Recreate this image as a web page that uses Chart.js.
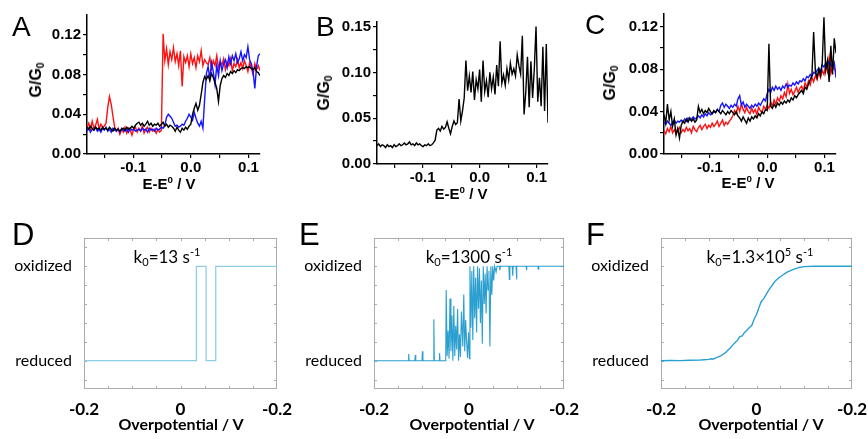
<!DOCTYPE html>
<html lang="en">
<head>
<meta charset="UTF-8">
<title>Conductance switching vs. simulated redox traces</title>
<style>
  body { margin: 0; background: #fff; }
  #fig { position: relative; width: 868px; height: 439px; overflow: hidden; }
  #fig canvas { position: absolute; }
  .txt { position: absolute; white-space: nowrap; line-height: 1; color: #000; }
  .letter { font-family: 'Liberation Sans', Arial, sans-serif; font-size: 28px; }
  .letter.low { font-size: 31px; }
  .ttl { font-family: 'Liberation Sans', Arial, sans-serif; font-weight: bold; font-size: 15px; transform: translate(-50%, -50%); }
  .ttl.rot { font-size: 16px; transform: translate(-50%, -50%) rotate(-90deg); }
  .sim { font-family: Lato, 'Open Sans', sans-serif; font-size: 17px; transform: translate(-50%, -50%); }
  .sim.bold { font-weight: bold; font-size: 16px; }
  sub, sup { font-size: 0.65em; line-height: 0; }
  sub { vertical-align: -0.3em; }
  sup { vertical-align: 0.55em; }
</style>
<script src="https://cdn.jsdelivr.net/npm/chart.js"></script>
</head>
<body>
<div id="fig">
  <canvas id="cA" width="290" height="200" style="left:0;top:0"></canvas>
  <canvas id="cB" width="290" height="210" style="left:288px;top:0"></canvas>
  <canvas id="cC" width="290" height="200" style="left:578px;top:0"></canvas>
  <canvas id="cD" width="300" height="222" style="left:0;top:212px"></canvas>
  <canvas id="cE" width="300" height="222" style="left:284px;top:212px"></canvas>
  <canvas id="cF" width="298" height="222" style="left:570px;top:212px"></canvas>

  <div class="txt letter" style="left:12px;top:13px">A</div>
  <div class="txt letter" style="left:316px;top:13px">B</div>
  <div class="txt letter" style="left:585px;top:11px">C</div>
  <div class="txt letter low" style="left:12px;top:219px">D</div>
  <div class="txt letter low" style="left:299px;top:219px">E</div>
  <div class="txt letter low" style="left:586px;top:219px">F</div>

  <div class="txt ttl" style="left:169px;top:183px">E-E<sup>0</sup> / V</div>
  <div class="txt ttl" style="left:461px;top:193px">E-E<sup>0</sup> / V</div>
  <div class="txt ttl" style="left:748px;top:182px">E-E<sup>0</sup> / V</div>
  <div class="txt ttl rot" style="left:36px;top:80px">G/G<sub>0</sub></div>
  <div class="txt ttl rot" style="left:324px;top:93px">G/G<sub>0</sub></div>
  <div class="txt ttl rot" style="left:610px;top:83px">G/G<sub>0</sub></div>

  <div class="txt sim" style="left:167px;top:256px">k<sub>0</sub>=13 s<sup>-1</sup></div>
  <div class="txt sim" style="left:469px;top:256px">k<sub>0</sub>=1300 s<sup>-1</sup></div>
  <div class="txt sim" style="left:760px;top:256px">k<sub>0</sub>=1.3×10<sup>5</sup> s<sup>-1</sup></div>
  <div class="txt sim bold" style="left:181px;top:424px">Overpotential / V</div>
  <div class="txt sim bold" style="left:472px;top:424px">Overpotential / V</div>
  <div class="txt sim bold" style="left:761px;top:424px">Overpotential / V</div>
</div>

<script>
// ---- measured data (E - E0 in V, G/G0) ----
const potential = [
  -0.180,-0.177,-0.174,-0.171,-0.168,-0.165,-0.162,-0.159,-0.156,-0.153,
  -0.150,-0.147,-0.144,-0.141,-0.138,-0.135,-0.132,-0.129,-0.126,-0.123,
  -0.120,-0.117,-0.114,-0.111,-0.108,-0.105,-0.102,-0.099,-0.096,-0.093,
  -0.090,-0.087,-0.084,-0.081,-0.078,-0.075,-0.072,-0.069,-0.066,-0.063,
  -0.060,-0.057,-0.054,-0.051,-0.048,-0.045,-0.042,-0.039,-0.036,-0.033,
  -0.030,-0.027,-0.024,-0.021,-0.018,-0.015,-0.012,-0.009,-0.006,-0.003,
  0.000,0.003,0.006,0.009,0.012,0.015,0.018,0.021,0.024,0.027,
  0.030,0.033,0.036,0.039,0.042,0.045,0.048,0.051,0.054,0.057,
  0.060,0.063,0.066,0.069,0.072,0.075,0.078,0.081,0.084,0.087,
  0.090,0.093,0.096,0.099,0.102,0.105,0.108,0.111,0.114,0.117,
  0.120];

const redA = [
  0.027,0.031,0.024,0.033,0.026,0.029,0.035,0.025,0.030,0.027,
  0.028,0.031,0.047,0.058,0.050,0.038,0.027,0.023,0.026,0.020,
  0.025,0.022,0.027,0.021,0.026,0.024,0.019,0.025,0.027,0.022,
  0.026,0.023,0.028,0.021,0.025,0.027,0.022,0.026,0.023,0.025,
  0.021,0.025,0.022,0.024,0.121,0.094,0.106,0.090,0.103,0.095,
  0.107,0.093,0.101,0.089,0.104,0.068,0.098,0.092,0.099,0.088,
  0.101,0.091,0.097,0.087,0.099,0.093,0.104,0.089,0.095,0.092,
  0.090,0.097,0.086,0.094,0.089,0.099,0.087,0.093,0.090,0.096,
  0.085,0.093,0.089,0.096,0.084,0.091,0.088,0.095,0.087,0.092,
  0.086,0.094,0.089,0.083,0.092,0.087,0.080,0.091,0.085,0.089,
  0.084];
const blueA = [
  0.023,0.026,0.022,0.025,0.024,0.027,0.023,0.025,0.022,0.026,
  0.024,0.027,0.023,0.025,0.022,0.026,0.024,0.023,0.025,0.022,
  0.026,0.024,0.023,0.025,0.022,0.026,0.024,0.025,0.023,0.024,
  0.025,0.023,0.026,0.024,0.025,0.022,0.026,0.024,0.025,0.023,
  0.026,0.024,0.025,0.027,0.026,0.029,0.037,0.040,0.038,0.036,
  0.032,0.028,0.029,0.027,0.028,0.030,0.029,0.033,0.036,0.040,
  0.037,0.034,0.042,0.036,0.031,0.028,0.033,0.026,0.055,0.081,
  0.088,0.076,0.092,0.083,0.070,0.089,0.079,0.094,0.084,0.091,
  0.095,0.087,0.098,0.091,0.099,0.094,0.101,0.092,0.096,0.103,
  0.094,0.100,0.097,0.108,0.095,0.091,0.083,0.066,0.088,0.099,
  0.101];
const blackA = [
  0.027,0.025,0.028,0.026,0.024,0.027,0.025,0.026,0.024,0.027,
  0.025,0.026,0.024,0.027,0.025,0.023,0.026,0.024,0.025,0.023,
  0.025,0.026,0.024,0.027,0.025,0.026,0.028,0.026,0.029,0.031,
  0.032,0.029,0.031,0.028,0.030,0.033,0.029,0.031,0.028,0.030,
  0.029,0.031,0.028,0.030,0.032,0.028,0.030,0.027,0.029,0.028,
  0.026,0.023,0.027,0.024,0.022,0.026,0.024,0.027,0.025,0.028,
  0.030,0.040,0.046,0.051,0.044,0.049,0.060,0.072,0.078,0.075,
  0.079,0.074,0.081,0.077,0.072,0.066,0.053,0.069,0.076,0.079,
  0.077,0.081,0.079,0.083,0.081,0.084,0.082,0.085,0.084,0.086,
  0.087,0.086,0.088,0.087,0.088,0.086,0.085,0.087,0.083,0.082,
  0.079];

const blackB = [
  0.020,0.022,0.019,0.021,0.020,0.018,0.021,0.019,0.020,0.018,
  0.021,0.019,0.020,0.022,0.020,0.021,0.023,0.021,0.022,0.024,
  0.021,0.022,0.020,0.023,0.021,0.022,0.020,0.019,0.021,0.020,
  0.022,0.020,0.021,0.023,0.026,0.037,0.039,0.036,0.041,0.038,
  0.040,0.046,0.039,0.033,0.041,0.047,0.043,0.045,0.071,0.047,
  0.058,0.072,0.113,0.080,0.096,0.078,0.101,0.070,0.092,0.082,
  0.103,0.068,0.113,0.079,0.091,0.073,0.100,0.082,0.095,0.076,
  0.108,0.085,0.134,0.088,0.097,0.086,0.104,0.092,0.110,0.098,
  0.104,0.096,0.119,0.107,0.098,0.140,0.054,0.078,0.117,0.062,
  0.112,0.072,0.104,0.150,0.068,0.094,0.063,0.128,0.058,0.131,
  0.045];

const redC = [
  0.022,0.019,0.024,0.021,0.026,0.020,0.023,0.019,0.022,0.025,
  0.020,0.023,0.021,0.025,0.022,0.024,0.020,0.026,0.023,0.021,
  0.025,0.027,0.023,0.026,0.028,0.024,0.027,0.025,0.029,0.026,
  0.028,0.031,0.026,0.029,0.032,0.027,0.030,0.028,0.031,0.033,
  0.036,0.041,0.038,0.045,0.040,0.047,0.042,0.039,0.044,0.040,
  0.038,0.043,0.039,0.042,0.037,0.044,0.041,0.039,0.045,0.042,
  0.046,0.043,0.049,0.045,0.051,0.047,0.053,0.050,0.055,0.052,
  0.058,0.054,0.066,0.057,0.061,0.056,0.059,0.063,0.058,0.062,
  0.064,0.060,0.067,0.063,0.069,0.065,0.072,0.068,0.074,0.070,
  0.077,0.072,0.079,0.075,0.084,0.078,0.091,0.076,0.083,0.080,
  0.079];
const blueC = [
  0.030,0.028,0.031,0.029,0.027,0.030,0.032,0.029,0.031,0.030,
  0.032,0.030,0.033,0.031,0.034,0.032,0.033,0.035,0.033,0.034,
  0.036,0.034,0.037,0.035,0.038,0.036,0.039,0.037,0.038,0.040,
  0.039,0.042,0.040,0.046,0.048,0.044,0.047,0.045,0.043,0.046,
  0.044,0.047,0.045,0.052,0.055,0.046,0.049,0.044,0.047,0.045,
  0.043,0.046,0.044,0.047,0.045,0.048,0.046,0.049,0.052,0.050,
  0.057,0.061,0.058,0.063,0.060,0.064,0.061,0.063,0.060,0.064,
  0.062,0.066,0.063,0.065,0.064,0.067,0.065,0.068,0.066,0.069,
  0.068,0.071,0.069,0.073,0.072,0.075,0.073,0.077,0.076,0.079,
  0.081,0.078,0.084,0.082,0.086,0.083,0.087,0.084,0.082,0.086,
  0.072];
const blackC = [
  0.037,0.029,0.047,0.032,0.040,0.026,0.033,0.018,0.024,0.015,
  0.027,0.031,0.029,0.033,0.030,0.034,0.031,0.033,0.030,0.032,
  0.045,0.039,0.042,0.038,0.041,0.039,0.043,0.040,0.038,0.041,
  0.039,0.042,0.040,0.038,0.041,0.039,0.037,0.040,0.038,0.041,
  0.039,0.037,0.040,0.036,0.034,0.031,0.035,0.032,0.029,0.034,
  0.031,0.035,0.033,0.036,0.034,0.038,0.036,0.040,0.038,0.042,
  0.041,0.104,0.045,0.043,0.047,0.044,0.048,0.046,0.049,0.047,
  0.050,0.048,0.051,0.049,0.053,0.051,0.055,0.053,0.056,0.058,
  0.060,0.057,0.063,0.061,0.066,0.070,0.074,0.115,0.078,0.072,
  0.080,0.074,0.086,0.129,0.079,0.088,0.068,0.102,0.075,0.109,
  0.095];

// ---- simulated traces (overpotential in V, state 0 = reduced, 1 = oxidized) ----
const stepX = [-0.2, 0.033, 0.033, 0.053, 0.053, 0.073, 0.073, 0.2];
const stepY = [0, 0, 1, 1, 0, 0, 1, 1];

const midX = [
  -0.200,-0.128,-0.127,-0.126,-0.114,-0.113,-0.112,-0.099,-0.098,-0.097,
  -0.075,-0.074,-0.073,-0.063,-0.062,-0.061,-0.049,-0.048,-0.046,-0.044,
  -0.042,-0.040,-0.038,-0.036,-0.034,-0.032,-0.030,-0.028,-0.026,-0.024,
  -0.022,-0.020,-0.018,-0.016,-0.013,-0.011,-0.009,-0.007,-0.005,-0.003,
  -0.001,0.001,0.002,0.004,0.006,0.008,0.010,0.012,0.014,0.016,
  0.018,0.020,0.022,0.024,0.026,0.028,0.030,0.032,0.034,0.036,
  0.038,0.040,0.042,0.044,0.046,0.048,0.050,0.052,0.054,0.057,
  0.059,0.064,0.065,0.066,0.084,0.085,0.086,0.091,0.092,0.093,
  0.099,0.100,0.101,0.120,0.121,0.122,0.145,0.146,0.147,0.200];
const midY = [
  0,0,0.07,0,0,0.06,0,0,0.10,0,
  0,0.44,0,0,0.08,0,0,0.75,0.05,0.32,
  0.02,0.66,0.10,0.48,0,0.58,0.05,0.37,0.12,0.55,
  0,0.28,0.04,0.52,0.15,0.70,0.10,0.43,0.20,0.03,
  0.30,0.02,1.0,0.35,0.95,0.22,1.0,0.45,0.88,0.30,
  1.0,0.55,0.98,0.40,0.85,0.18,1.0,0.60,0.92,0.50,
  1.0,0.75,0.95,0.15,1.0,0.70,1.0,0.85,1.0,0.94,
  1.0,1.0,0.96,1.0,1.0,0.86,1.0,1.0,0.90,1.0,
  1.0,0.86,1.0,1.0,0.96,1.0,1.0,0.97,1.0,1.0];

const fastX = [
  -0.20,-0.18,-0.16,-0.14,-0.12,-0.11,-0.10,-0.095,-0.09,-0.085,
  -0.08,-0.075,-0.07,-0.065,-0.06,-0.055,-0.05,-0.045,-0.04,-0.035,
  -0.03,-0.025,-0.02,-0.015,-0.01,-0.005,0,0.005,0.01,0.015,
  0.02,0.025,0.03,0.035,0.04,0.045,0.05,0.055,0.06,0.065,
  0.07,0.075,0.08,0.09,0.10,0.12,0.14,0.16,0.18,0.20];
const fastY = [
  0.000,0.002,0.001,0.004,0.006,0.010,0.014,0.020,0.018,0.030,
  0.040,0.052,0.068,0.085,0.110,0.135,0.165,0.190,0.215,0.255,
  0.262,0.300,0.322,0.352,0.372,0.440,0.490,0.560,0.628,0.655,
  0.700,0.742,0.780,0.815,0.848,0.870,0.890,0.908,0.925,0.940,
  0.952,0.963,0.972,0.988,0.997,1.0,1.0,1.0,1.0,1.0];

// ---- tick labels ----
const eTicks = [-0.1, 0, 0.1];
const eTickText = ['-0.1', '0.0', '0.1'];
const eMinor = [-0.15, -0.05, 0.05];
const gTicks4 = [0, 0.04, 0.08, 0.12];
const gTicks4Text = ['0.00', '0.04', '0.08', '0.12'];
const gMinor4 = [0.02, 0.06, 0.10];
const gTicks5 = [0, 0.05, 0.10, 0.15];
const gTicks5Text = ['0.00', '0.05', '0.10', '0.15'];
const gMinor5 = [0.025, 0.075, 0.125];
const etaTicks = [-0.2, 0, 0.2];
const etaTickText = ['-0.2', '0', '-0.2'];
const etaMinor = [-0.15, -0.1, -0.05, 0, 0.05, 0.1, 0.15];
const stateTicks = [0, 1];
const stateText = ['reduced', 'oxidized'];
const stateMinor = [-0.2, 0, 0.2, 0.4, 0.6, 0.8, 1.0, 1.2];

Chart.defaults.font.family = "'Liberation Sans', Arial, sans-serif";
Chart.defaults.color = '#000';

function labelFor(values, texts) {
  return v => {
    const i = values.findIndex(t => Math.abs(t - v) < 1e-9);
    return i < 0 ? '' : texts[i];
  };
}

function pts(xs, ys) {
  return xs.map((x, i) => ({ x: x, y: ys[i] }));
}

// frame + inward ticks for the simulation panels
const frameTicks = {
  id: 'frameTicks',
  beforeDatasetsDraw(chart, args, opts) {
    if (!opts.x) return;
    const { ctx, chartArea: a, scales: { x, y } } = chart;
    ctx.save();
    ctx.strokeStyle = opts.color;
    ctx.lineWidth = 1;
    ctx.strokeRect(a.left + 0.5, a.top + 0.5, a.width - 1, a.height - 1);
    ctx.beginPath();
    opts.x.forEach(v => {
      const px = Math.round(x.getPixelForValue(v)) + 0.5;
      ctx.moveTo(px, a.bottom); ctx.lineTo(px, a.bottom - 3);
      ctx.moveTo(px, a.top); ctx.lineTo(px, a.top + 3);
    });
    opts.y.forEach(v => {
      const py = Math.round(y.getPixelForValue(v)) + 0.5;
      ctx.moveTo(a.left, py); ctx.lineTo(a.left + 3, py);
      ctx.moveTo(a.right, py); ctx.lineTo(a.right - 3, py);
    });
    ctx.stroke();
    ctx.restore();
  }
};

// box = canvas rect on the page, plot = wanted plot area on the page
function layoutFor(box, plot) {
  return {
    padding: { left: 0, top: plot.t - box.y, right: box.x + box.w - plot.r, bottom: 0 },
    yWidth: plot.l - box.x,
    xHeight: box.y + box.h - plot.b
  };
}

function conductanceChart(id, box, plot, datasets, ymax, yMajor, yText, yMinor) {
  const L = layoutFor(box, plot);
  const tickFont = { size: 15, weight: 'bold' };
  new Chart(document.getElementById(id), {
    type: 'line',
    data: { datasets: datasets },
    options: {
      responsive: false,
      animation: false,
      devicePixelRatio: 1,
      layout: { padding: L.padding },
      plugins: { legend: { display: false }, tooltip: { enabled: false } },
      elements: { point: { radius: 0 }, line: { borderWidth: 1.4, tension: 0 } },
      scales: {
        x: {
          type: 'linear', min: -0.18, max: 0.12,
          afterBuildTicks: s => { s.ticks = eTicks.concat(eMinor).map(v => ({ value: v })); },
          afterFit: s => { s.height = L.xHeight; s.paddingLeft = 0; s.paddingRight = 0; },
          grid: { display: true, drawOnChartArea: false, drawTicks: true, tickLength: 4, color: '#000', lineWidth: 1.2 },
          border: { display: true, color: '#000', width: 1.5 },
          ticks: { autoSkip: false, maxRotation: 0, padding: 1, font: tickFont, callback: labelFor(eTicks, eTickText) }
        },
        y: {
          type: 'linear', min: 0, max: ymax,
          afterBuildTicks: s => { s.ticks = yMajor.concat(yMinor).map(v => ({ value: v })); },
          afterFit: s => { s.width = L.yWidth; s.paddingTop = 0; s.paddingBottom = 0; },
          grid: { display: true, drawOnChartArea: false, drawTicks: true, tickLength: 4, color: '#000', lineWidth: 1.2 },
          border: { display: true, color: '#000', width: 1.5 },
          ticks: { autoSkip: false, padding: 2, font: tickFont, callback: labelFor(yMajor, yText) }
        }
      }
    }
  });
}

function simulationChart(id, box, plot, xs, ys, color, width) {
  const L = layoutFor(box, plot);
  new Chart(document.getElementById(id), {
    type: 'line',
    data: { datasets: [{ data: pts(xs, ys), borderColor: color, borderWidth: width }] },
    options: {
      responsive: false,
      animation: false,
      devicePixelRatio: 1,
      layout: { padding: L.padding },
      plugins: {
        legend: { display: false },
        tooltip: { enabled: false },
        frameTicks: { color: '#ababab', x: etaMinor, y: stateMinor }
      },
      elements: { point: { radius: 0 }, line: { tension: 0 } },
      scales: {
        x: {
          type: 'linear', min: -0.2, max: 0.2,
          afterBuildTicks: s => { s.ticks = etaTicks.map(v => ({ value: v })); },
          afterFit: s => { s.height = L.xHeight; s.paddingLeft = 0; s.paddingRight = 0; },
          grid: { display: false, drawTicks: false },
          border: { display: false },
          ticks: { autoSkip: false, maxRotation: 0, padding: 10,
                   font: { family: "Lato, 'Open Sans', sans-serif", size: 17, weight: 'bold' },
                   callback: labelFor(etaTicks, etaTickText) }
        },
        y: {
          type: 'linear', min: -0.3, max: 1.3,
          afterBuildTicks: s => { s.ticks = stateTicks.map(v => ({ value: v })); },
          afterFit: s => { s.width = L.yWidth; s.paddingTop = 0; s.paddingBottom = 0; },
          grid: { display: false, drawTicks: false },
          border: { display: false },
          ticks: { autoSkip: false, padding: 12,
                   font: { family: "Lato, 'Open Sans', sans-serif", size: 16 },
                   callback: labelFor(stateTicks, stateText) }
        }
      }
    },
    plugins: [frameTicks]
  });
}

// black listed first so it sits on top, red at the bottom
conductanceChart('cA', { x: 0, y: 0, w: 290, h: 200 }, { l: 87, t: 15, r: 260, b: 154 }, [
  { data: pts(potential, blackA), borderColor: '#000000' },
  { data: pts(potential, blueA), borderColor: '#1414ff' },
  { data: pts(potential, redA), borderColor: '#ff1010' }
], 0.14, gTicks4, gTicks4Text, gMinor4);

conductanceChart('cB', { x: 288, y: 0, w: 290, h: 210 }, { l: 377, t: 22, r: 548, b: 164 }, [
  { data: pts(potential, blackB), borderColor: '#000000' }
], 0.155, gTicks5, gTicks5Text, gMinor5);

conductanceChart('cC', { x: 578, y: 0, w: 290, h: 200 }, { l: 664, t: 14, r: 836, b: 154 }, [
  { data: pts(potential, blackC), borderColor: '#000000' },
  { data: pts(potential, blueC), borderColor: '#1414ff' },
  { data: pts(potential, redC), borderColor: '#ff1010' }
], 0.132, gTicks4, gTicks4Text, gMinor4);

simulationChart('cD', { x: 0, y: 212, w: 300, h: 222 }, { l: 84, t: 238, r: 277, b: 389 }, stepX, stepY, '#8ccfe2', 1.3);
simulationChart('cE', { x: 284, y: 212, w: 300, h: 222 }, { l: 374, t: 238, r: 564, b: 389 }, midX, midY, '#2a9fd0', 1.1);
simulationChart('cF', { x: 570, y: 212, w: 298, h: 222 }, { l: 661, t: 238, r: 852, b: 389 }, fastX, fastY, '#2b9fd2', 1.4);
</script>
</body>
</html>
